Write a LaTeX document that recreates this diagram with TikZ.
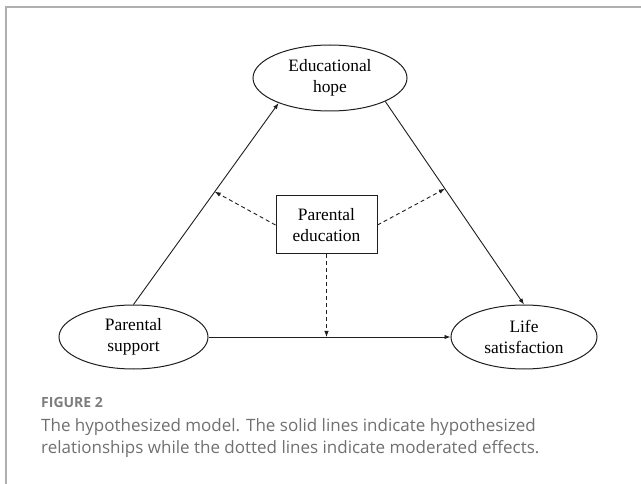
\documentclass[tikz,border=0pt]{standalone}
\usepackage{fontspec}
\setmainfont{Liberation Serif}
\newfontfamily\capfont{Open Sans}
\usetikzlibrary{shapes.geometric,arrows.meta}
\definecolor{ink}{RGB}{30,30,30}
\definecolor{capgray}{RGB}{112,112,112}
\definecolor{figgray}{RGB}{125,125,125}
\definecolor{framegray}{RGB}{175,175,175}
\begin{document}
\begin{tikzpicture}[x=1pt,y=-1pt,
  latent/.style={ellipse,draw=ink,line width=1pt,inner sep=0pt,align=center,
    font=\fontsize{17.4}{21}\selectfont},
  modbox/.style={rectangle,draw=ink,line width=1pt,minimum width=101pt,
    minimum height=58pt,inner sep=0pt,align=center,font=\fontsize{17.4}{21}\selectfont},
  effect/.style={draw=ink,line width=0.9pt,-{Latex[length=6pt,width=4.5pt]}},
  modeffect/.style={effect,dash pattern=on 4pt off 3pt}
]
\useasboundingbox (0,0) rectangle (641,484);
\draw[framegray,line width=1.3pt] (6,484) -- (6,7) -- (641,7);

\node[latent,minimum width=154pt,minimum height=66pt] (eh) at (330,78) {Educational\\hope};
\node[latent,minimum width=149pt,minimum height=64pt] (ps) at (133.5,337) {Parental\\support};
\node[latent,minimum width=146pt,minimum height=64pt] (ls) at (524,337) {Life\\satisfaction};
\node[modbox] (pe) at (326.5,225) {Parental\\education};

\draw[effect] (ps.north) -- coordinate[pos=0.56] (m1) (eh.206);
\draw[effect] (eh.337) -- coordinate[pos=0.43] (m2) (ls.north);
\draw[effect] (ps.east) -- (ls.west);
\coordinate (m3) at (pe.south |- ps.east);

\draw[modeffect] (pe.west) -- (m1);
\draw[modeffect] (pe.east) -- (m2);
\draw[modeffect] (pe.south) -- (m3);

\node[anchor=base west,inner sep=0pt,text=figgray,
  font=\capfont\bfseries\fontsize{14}{16}\selectfont] (fig) at (41,407) {FIGURE 2};
\node[anchor=base west,inner sep=0pt,align=left,text=capgray,
  font=\capfont\fontsize{17}{22}\selectfont] (cap) at (41,453)
  {The hypothesized model. The solid lines indicate hypothesized\\relationships while the dotted lines indicate moderated effects.};
\end{tikzpicture}
\end{document}
